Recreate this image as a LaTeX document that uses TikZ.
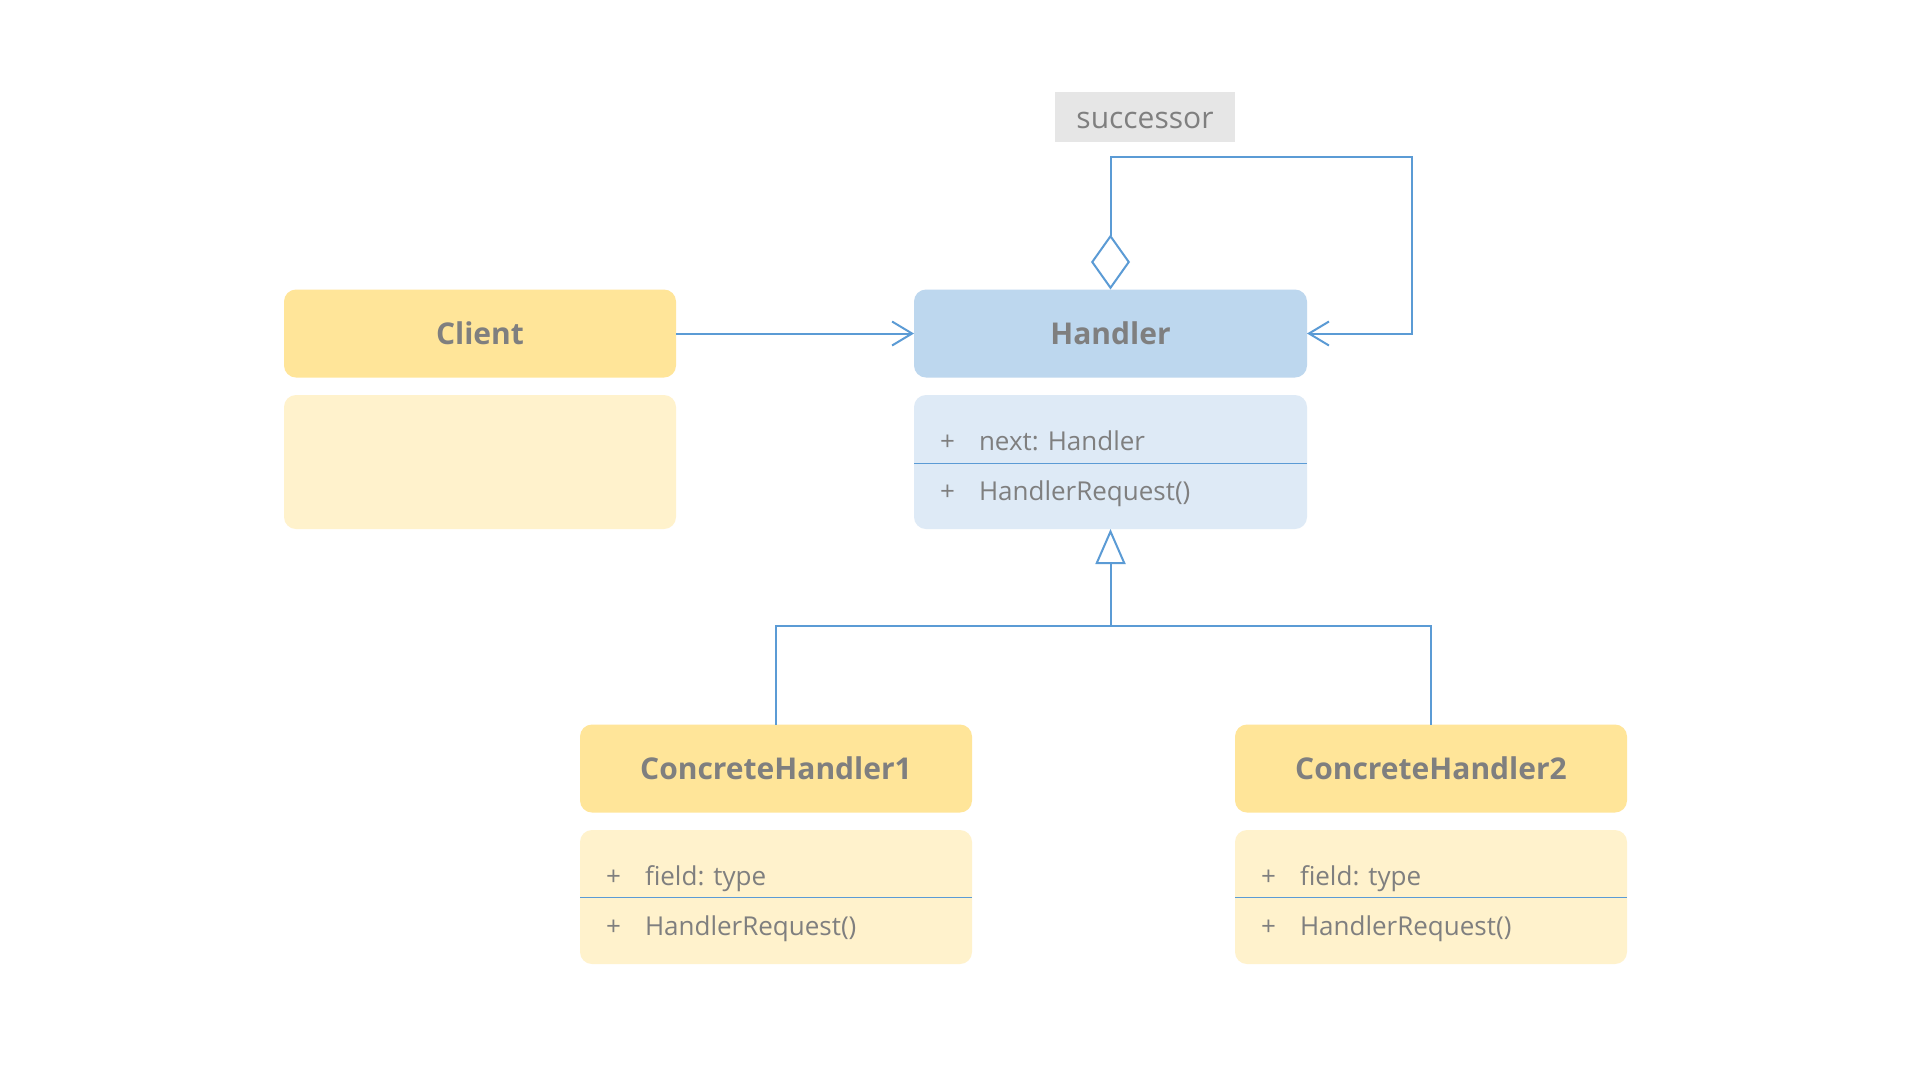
\documentclass[tikz,border=0pt]{standalone}
\usepackage{fontspec}
\setmainfont{Open Sans}
\usetikzlibrary{arrows.meta,calc}
\definecolor{hdrY}{HTML}{FFE599}
\definecolor{bodyY}{HTML}{FFF2CC}
\definecolor{hdrB}{HTML}{BDD7EE}
\definecolor{bodyB}{HTML}{DEEAF6}
\definecolor{lineB}{HTML}{5B9BD5}
\definecolor{txtG}{HTML}{7F7F7F}
\definecolor{lblG}{HTML}{E6E6E6}
\begin{document}
\begin{tikzpicture}[x=1pt,y=-1pt,
  box/.style={rounded corners=12pt, inner sep=0pt, outer sep=0pt, minimum width=392pt, draw=none},
  hdr/.style={box, minimum height=88pt, font=\fontsize{30}{36}\selectfont\bfseries, text=txtG},
  bodybox/.style={box, minimum height=134pt},
  memb/.style={anchor=base west, inner sep=0pt, outer sep=0pt, font=\fontsize{26}{31}\selectfont, text=txtG},
  conn/.style={draw=lineB, line width=2pt},
  sepline/.style={draw=lineB, line width=1pt},
  openhead/.style={-{Straight Barb[length=20pt, width=24pt]}},
]
\useasboundingbox (0,0) rectangle (1920,1080);
\fill[white] (0,0) rectangle (1920,1080);

% Client
\node[hdr, fill=hdrY] (client) at (480,333.5) {Client};
\node[bodybox, fill=bodyY] (clientb) at (480,462) {};

% Handler
\node[hdr, fill=hdrB, minimum width=393pt] (handler) at (1110.5,333.5) {Handler};
\node[bodybox, fill=bodyB, minimum width=393pt] (handlerb) at (1110.5,462) {};
\draw[sepline] ($(handlerb.north west)+(0,68)$) -- ($(handlerb.north east)+(0,68)$);
\node[memb] (hp1) at ($(handlerb.north west)+(26,55)$) {+};
\node[memb] (ht1) at ($(handlerb.north west)+(65,55)$) {next: Handler};
\node[memb] (hp2) at ($(handlerb.north west)+(26,105)$) {+};
\node[memb] (ht2) at ($(handlerb.north west)+(65,105)$) {HandlerRequest()};

% ConcreteHandler1
\node[hdr, fill=hdrY] (ch1) at (776,768.5) {ConcreteHandler1};
\node[bodybox, fill=bodyY] (ch1b) at (776,897) {};
\draw[sepline] ($(ch1b.north west)+(0,67)$) -- ($(ch1b.north east)+(0,67)$);
\node[memb] (c1p1) at ($(ch1b.north west)+(26,55)$) {+};
\node[memb] (c1t1) at ($(ch1b.north west)+(65,55)$) {field: type};
\node[memb] (c1p2) at ($(ch1b.north west)+(26,105)$) {+};
\node[memb] (c1t2) at ($(ch1b.north west)+(65,105)$) {HandlerRequest()};

% ConcreteHandler2
\node[hdr, fill=hdrY] (ch2) at (1431,768.5) {ConcreteHandler2};
\node[bodybox, fill=bodyY] (ch2b) at (1431,897) {};
\draw[sepline] ($(ch2b.north west)+(0,67)$) -- ($(ch2b.north east)+(0,67)$);
\node[memb] (c2p1) at ($(ch2b.north west)+(26,55)$) {+};
\node[memb] (c2t1) at ($(ch2b.north west)+(65,55)$) {field: type};
\node[memb] (c2p2) at ($(ch2b.north west)+(26,105)$) {+};
\node[memb] (c2t2) at ($(ch2b.north west)+(65,105)$) {HandlerRequest()};

% successor label
\node[fill=lblG, minimum width=180pt, minimum height=50pt, inner sep=0pt,
      text height=22pt, text depth=0pt,
      font=\fontsize{30}{36}\selectfont, text=txtG] (succ) at (1145,117) {successor};

% Client -> Handler
\draw[conn, openhead] (client.east) -- (handler.west);

% self association loop
\coordinate (loopR) at (1412,157);
\draw[conn, {Diamond[open, length=55pt, width=39pt]}-{Straight Barb[length=20pt, width=24pt]}]
  (handler.north) -- (handler.north |- loopR) -- (loopR) -- (loopR |- handler.east) -- (handler.east);

% inheritance
\coordinate (junc) at (1110.5,626);
\draw[conn] (ch1.north) |- (junc) -| (ch2.north);
\draw[conn, -{Triangle[open, length=35pt, width=30pt]}] (junc) -- (handlerb.south);
\end{tikzpicture}
\end{document}
